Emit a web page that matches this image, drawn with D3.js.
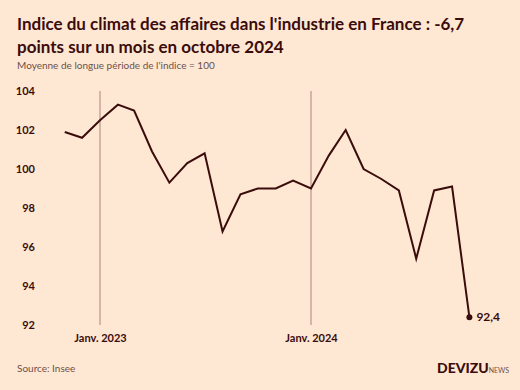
<!DOCTYPE html>
<html>
<head>
<meta charset="utf-8">
<script src="https://cdn.jsdelivr.net/npm/d3@7"></script>
<style>
  body { margin: 0; background: #fee8d3; }
  svg { display: block; font-family: Lato, "DejaVu Sans", sans-serif; }
</style>
</head>
<body>
<div id="chart"></div>
<script>
// months Nov 2022 -> Oct 2024
var months = ["2022-11", "2022-12", "2023-01", "2023-02", "2023-03", "2023-04", "2023-05", "2023-06",
  "2023-07", "2023-08", "2023-09", "2023-10", "2023-11", "2023-12", "2024-01", "2024-02",
  "2024-03", "2024-04", "2024-05", "2024-06", "2024-07", "2024-08", "2024-09", "2024-10"];
var values = [101.9, 101.6, 102.5, 103.3, 103.0, 100.9, 99.3, 100.3,
  100.8, 96.8, 98.7, 99.0, 99.0, 99.4, 99.0, 100.7,
  102.0, 100.0, 99.5, 98.9, 95.4, 98.9, 99.1, 92.4];
var yTicks = [92, 94, 96, 98, 100, 102, 104];
var janMarks = ["2023-01", "2024-01"];
var janLabels = ["Janv. 2023", "Janv. 2024"];

var dark = "#3b0c0c";
var parse = d3.timeParse("%Y-%m");
var data = months.map((m, i) => ({ date: parse(m), value: values[i] }));

var svgWidth = 520, svgHeight = 390;
var svg = d3.select("#chart").append("svg")
  .attr("width", svgWidth)
  .attr("height", svgHeight);

// titles
svg.append("text").attr("x", 17).attr("y", 30)
  .attr("font-size", 17).attr("font-weight", 700).attr("fill", dark)
  .text("Indice du climat des affaires dans l'industrie en France : -6,7");
svg.append("text").attr("x", 17).attr("y", 53)
  .attr("font-size", 17).attr("font-weight", 700).attr("fill", dark)
  .text("points sur un mois en octobre 2024");
svg.append("text").attr("x", 17).attr("y", 69)
  .attr("font-size", 10).attr("fill", "#6e4f4a")
  .text("Moyenne de longue période de l'indice = 100");

// scales
var x = d3.scaleTime()
  .domain([parse("2023-01"), parse("2024-01")])
  .range([100, 311]);
var y = d3.scaleLinear().domain([92, 104]).range([325, 91]);

// y axis labels
var yAxis = d3.axisLeft(y).tickValues(yTicks).tickSize(0).tickPadding(0);
svg.append("g")
  .attr("transform", "translate(35,0)")
  .call(yAxis)
  .call(g => g.select(".domain").remove())
  .call(g => g.selectAll("text")
    .attr("font-family", "Lato, sans-serif")
    .attr("font-size", 11).attr("font-weight", 700).attr("fill", dark));

// january lines
svg.append("g").selectAll("line")
  .data(janMarks)
  .enter().append("line")
  .attr("x1", d => x(parse(d))).attr("x2", d => x(parse(d)))
  .attr("y1", y(104)).attr("y2", y(92))
  .attr("stroke", "#a9817a").attr("stroke-width", 1);

var xAxis = d3.axisBottom(x)
  .tickValues(janMarks.map(parse))
  .tickFormat((d, i) => janLabels[i])
  .tickSize(0).tickPadding(0);
svg.append("g")
  .attr("transform", "translate(0,334)")
  .call(xAxis)
  .call(g => g.select(".domain").remove())
  .call(g => g.selectAll("text")
    .attr("font-family", "Lato, sans-serif")
    .attr("font-size", 11).attr("font-weight", 700).attr("fill", dark));

// line
var line = d3.line().x(d => x(d.date)).y(d => y(d.value));
svg.append("path")
  .datum(data)
  .attr("d", line)
  .attr("fill", "none")
  .attr("stroke", dark)
  .attr("stroke-width", 2)
  .attr("stroke-linejoin", "miter");

var last = data[data.length - 1];
svg.append("circle")
  .attr("cx", x(last.date)).attr("cy", y(last.value))
  .attr("r", 3).attr("fill", dark);
svg.append("text")
  .attr("x", x(last.date) + 7).attr("y", y(last.value))
  .attr("dy", "0.35em")
  .attr("font-size", 12).attr("font-weight", 700).attr("fill", dark)
  .text(d3.format(".1f")(last.value).replace(".", ","));

// footer
svg.append("text").attr("x", 17).attr("y", 372)
  .attr("font-size", 10).attr("fill", "#6e4f4a")
  .text("Source: Insee");
var logo = svg.append("text").attr("x", 437).attr("y", 373)
  .attr("fill", dark);
logo.append("tspan").attr("font-size", 14).attr("font-weight", 900).text("DEVIZU");
logo.append("tspan").attr("font-size", 7).attr("fill", "#6e4f4a").text("NEWS");
</script>
</body>
</html>
